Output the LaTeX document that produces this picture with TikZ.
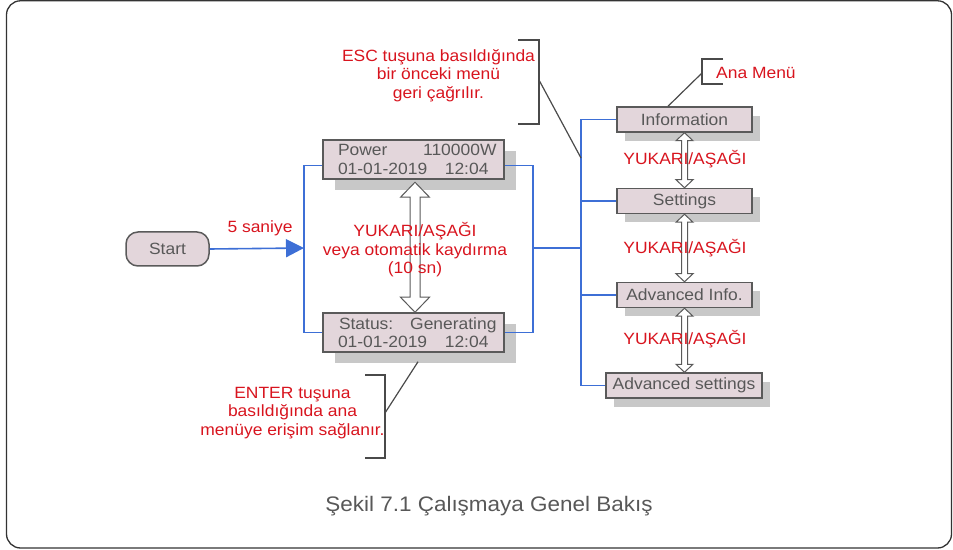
\documentclass[tikz,border=0pt]{standalone}
\usepackage{fontspec}
\setmainfont{Liberation Sans}[FakeStretch=1.07]
\usetikzlibrary{calc,arrows.meta,shadows}
\definecolor{boxfill}{HTML}{E3D6DB}
\definecolor{boxborder}{HTML}{5A5A5A}
\definecolor{shadowc}{HTML}{C8C8C8}
\definecolor{graytext}{HTML}{585858}
\definecolor{redtext}{HTML}{D8141E}
\definecolor{blueline}{HTML}{3D6FD6}
\definecolor{framec}{HTML}{333333}
\definecolor{calloutc}{HTML}{4A4A4A}
\newcommand{\hollowdbl}[5]{%
  \draw[hollowarrow] let \p1=(#1), \p2=(#2) in
    (\x1,\y1) -- (\x1+#4,\y1-#5) -- (\x1+#3,\y1-#5) -- (\x1+#3,\y2+#5)
    -- (\x1+#4,\y2+#5) -- (\x1,\y2) -- (\x1-#4,\y2+#5) -- (\x1-#3,\y2+#5)
    -- (\x1-#3,\y1-#5) -- (\x1-#4,\y1-#5) -- cycle;}
\begin{document}
\begin{tikzpicture}[x=1bp,y=-1bp,
  every node/.style={font=\fontsize{16.3bp}{18.5bp}\selectfont, inner sep=0pt},
  lcdbox/.style={draw=boxborder, line width=1.5bp, fill=boxfill, text=graytext,
    minimum width=181bp, minimum height=39bp, text width=166bp, align=left,
    font=\fontsize{16.3bp}{18.5bp}\selectfont,
    general shadow={fill=shadowc, shadow xshift=12bp, shadow yshift=-11bp}},
  menubox/.style={draw=boxborder, line width=1.5bp, fill=boxfill, text=graytext,
    minimum width=135bp, minimum height=25bp,
    general shadow={fill=shadowc, shadow xshift=8bp, shadow yshift=-9bp}},
  startbox/.style={draw=boxborder, line width=1.5bp, fill=boxfill, text=graytext,
    minimum width=83bp, minimum height=34bp, rounded corners=12bp},
  redlabel/.style={text=redtext, align=center},
  conn/.style={draw=blueline, line width=1.6bp},
  hollowarrow/.style={draw=boxborder, line width=1bp, fill=white},
  callout/.style={draw=calloutc, line width=1.2bp}]
\useasboundingbox (0,0) rectangle (953,550);
\draw[framec, line width=1.3bp, rounded corners=14bp] (6.5,0.8) rectangle (951.5,548);

% nodes
\node[startbox] (start) at (167.5,249) {Start};
\node[lcdbox] (power) at (413.5,159.5) {\hspace*{7.5bp}Power\hfill110000W\\\hspace*{7.5bp}01-01-2019\hfill12:04\hspace*{8bp}};
\node[lcdbox] (status) at (413.5,332.5) {\hspace*{8.5bp}Status:\hfill Generating\hspace*{8bp}\\\hspace*{7.5bp}01-01-2019\hfill12:04\hspace*{8bp}};
\node[menubox] (info) at (684.5,119.5) {Information};
\node[menubox] (settings) at (684.5,201) {Settings};
\node[menubox] (advinfo) at (684.5,295) {Advanced Info.};
\node[menubox, minimum width=156bp] (advset) at (684,385.5) {Advanced settings};

% blue connectors
\coordinate (lb) at (304,248);
\coordinate (rb) at (533,248);
\coordinate (trunk) at (581,248);
\draw[conn, -{Triangle[length=18bp,width=18bp]}] (start.east) -- (lb);
\draw[conn] ($(power.west)+(0,6)$) -| (lb) |- (status.west);
\draw[conn] ($(power.east)+(0,6)$) -| (rb) |- (status.east);
\draw[conn] (rb) -- (trunk);
\draw[conn] (info.west) -| (trunk) |- (advset.west);
\draw[conn] (settings.west) -- (settings.west -| trunk);
\draw[conn] (advinfo.west) -- (advinfo.west -| trunk);

% hollow double arrows
\coordinate (bigtop) at ($(power.south)+(1.5,2.5)$);
\coordinate (bigbot) at ($(status.north)+(1.5,0)$);
\hollowdbl{bigtop}{bigbot}{5bp}{14.5bp}{15bp}
\hollowdbl{info.south}{settings.north}{3bp}{8.5bp}{8bp}
\hollowdbl{settings.south}{advinfo.north}{3bp}{8.5bp}{8bp}
\hollowdbl{advinfo.south}{advset.north}{3bp}{8.5bp}{8bp}

% red labels
\node[redlabel] (five) at (260,228) {5 saniye};
\node[redlabel] (scroll) at (415,250) {YUKARI/AŞAĞI\\veya otomatik kaydırma\\(10 sn)};
\node[redlabel] (ud1) at (685,159) {YUKARI/AŞAĞI};
\node[redlabel] (ud2) at (685,248) {YUKARI/AŞAĞI};
\node[redlabel] (ud3) at (685,339) {YUKARI/AŞAĞI};
\node[redlabel] (esc) at (438.5,75.5) {ESC tuşuna basıldığında\\bir önceki menü\\geri çağrılır.};
\node[redlabel] (enter) at (292.5,413) {ENTER tuşuna\\basıldığında ana\\menüye erişim sağlanır.};
\node[redlabel, anchor=west] (anamenu) at (716,73) {Ana Menü};

% callout brackets
\coordinate (escT) at (518,40);
\coordinate (escTR) at (539,40);
\coordinate (escBR) at (539,124);
\coordinate (escB) at (518,124);
\coordinate (escM) at (539,80);
\coordinate (escP) at (581,158);
\draw[callout] (escT) -- (escTR) -- (escBR) -- (escB);
\draw[callout] (escM) -- (escP);

\coordinate (anaT) at (723,59);
\coordinate (anaTL) at (702,59);
\coordinate (anaBL) at (702,84);
\coordinate (anaB) at (723,84);
\coordinate (anaM) at (702,73);
\draw[callout] (anaT) -- (anaTL) -- (anaBL) -- (anaB);
\draw[callout] (anaM) -- ($(info.north)+(-16.5,0)$);

\coordinate (entT) at (365,375);
\coordinate (entTR) at (385,375);
\coordinate (entBR) at (385,458);
\coordinate (entB) at (365,458);
\coordinate (entM) at (385,413);
\draw[callout] (entT) -- (entTR) -- (entBR) -- (entB);
\draw[callout] (entM) -- ($(status.south)+(4.5,9)$);

% caption
\node[text=graytext, anchor=base, font=\fontsize{21bp}{24bp}\selectfont] (caption) at (489,511.5) {Şekil 7.1 Çalışmaya Genel Bakış};
\end{tikzpicture}
\end{document}
